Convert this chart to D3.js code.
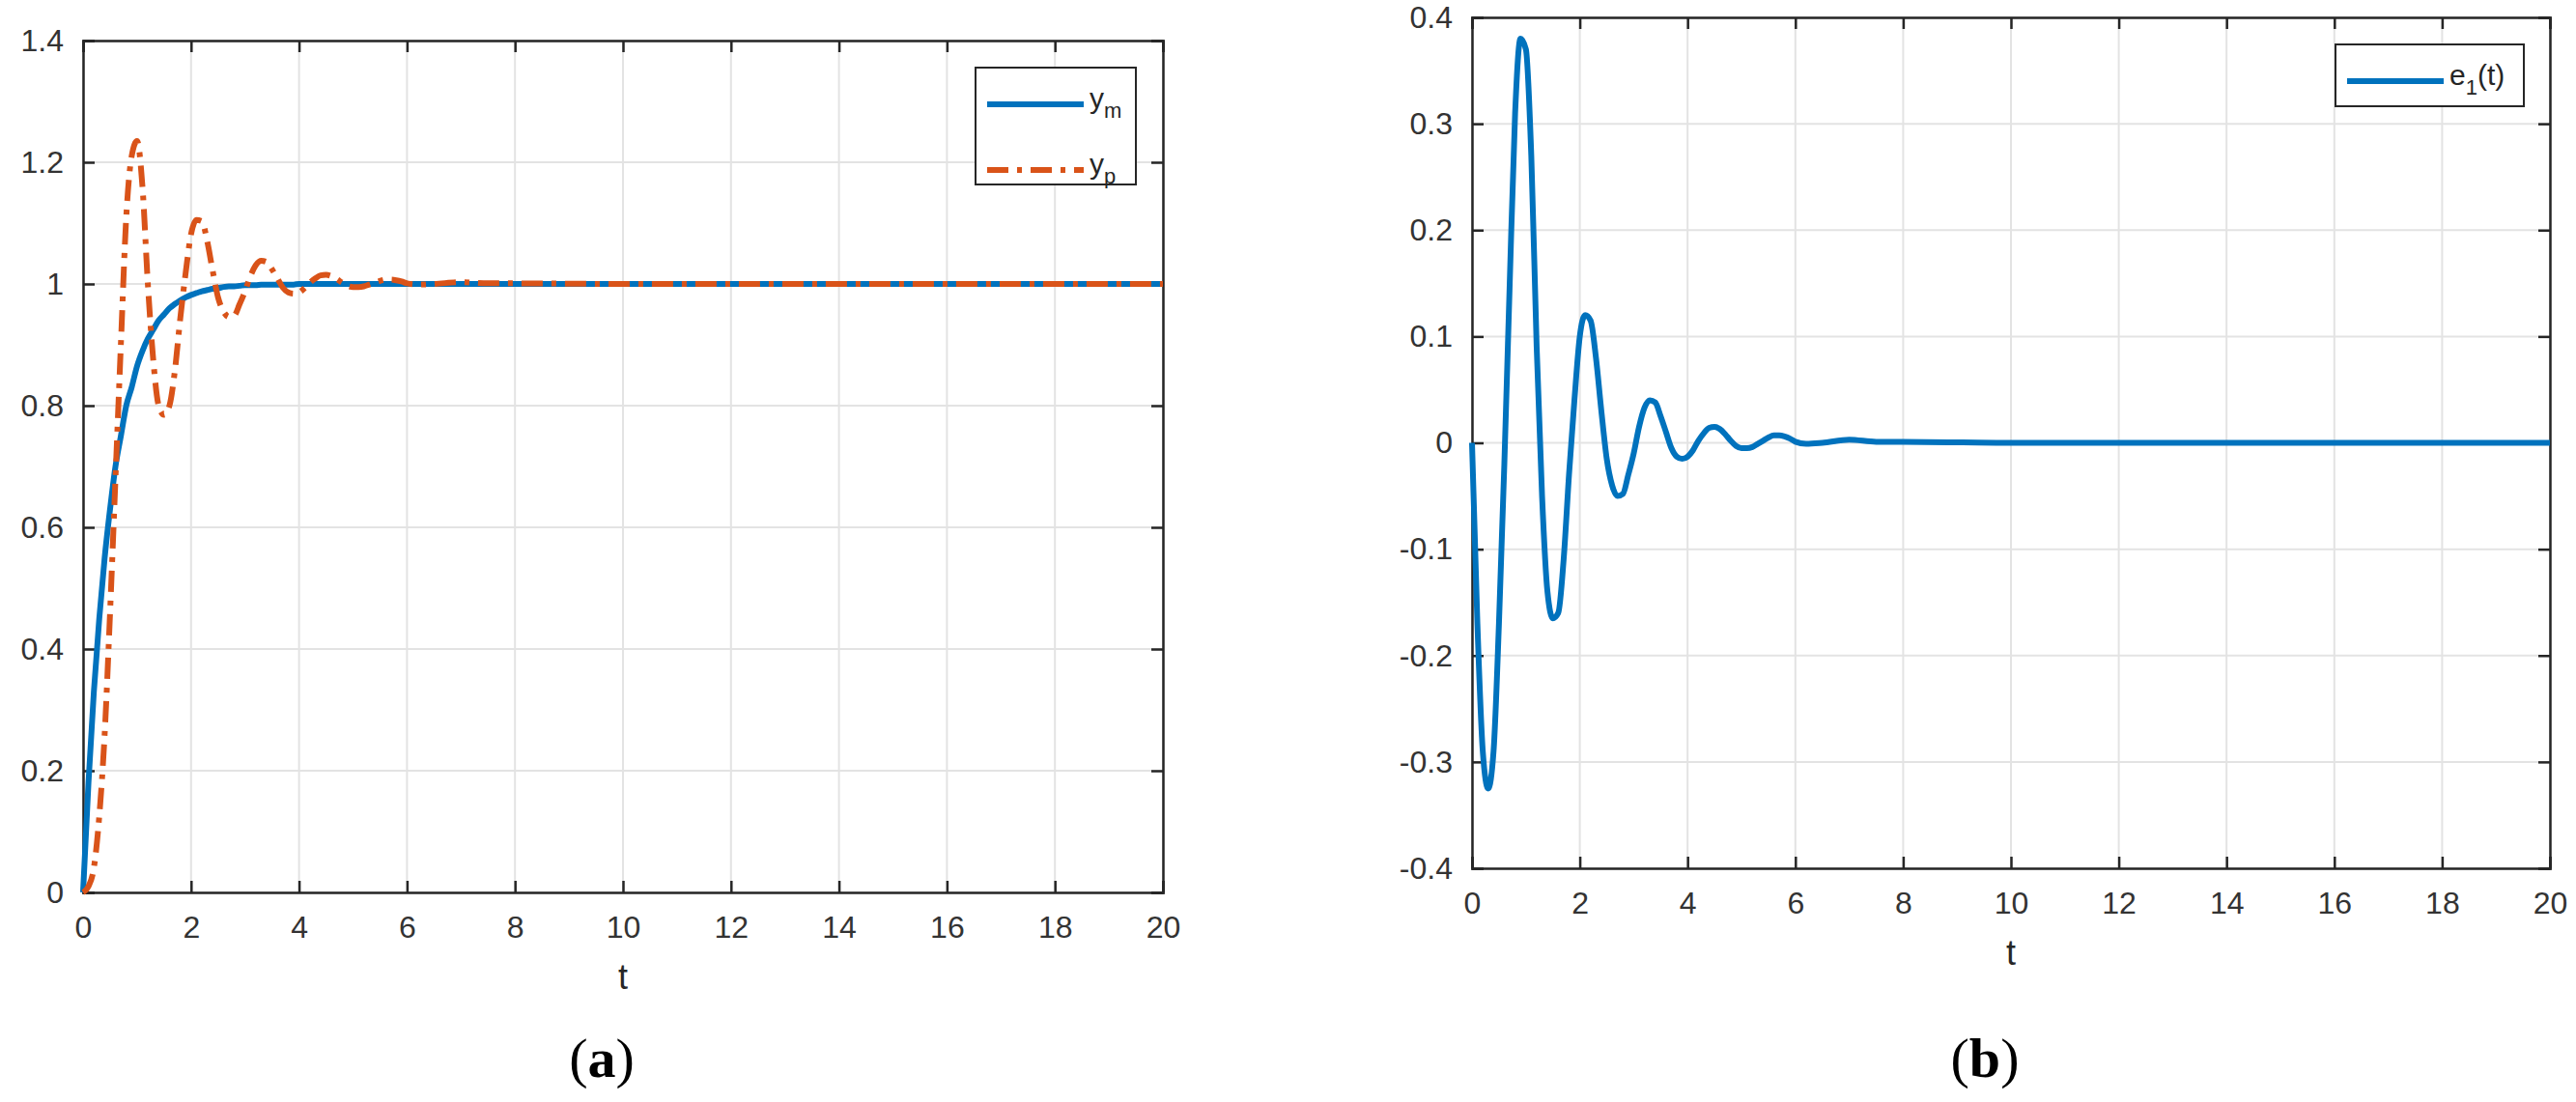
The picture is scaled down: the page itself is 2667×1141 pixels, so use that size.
<!DOCTYPE html>
<html><head><meta charset="utf-8">
<script src="https://cdn.jsdelivr.net/npm/d3@7"></script>
<style>
body{margin:0;background:#fff;}
text{font-family:"Liberation Sans",Arial,sans-serif;fill:#262626;}
</style></head>
<body>
<svg id="chart" width="2667" height="1141"></svg>
<script>
// time samples
var tVals = [0,0.1,0.2,0.3,0.4,0.5,0.6,0.7,0.8,0.9,1.0,1.1,1.2,1.3,1.4,1.5,1.6,1.7,1.8,1.9,
  2.0,2.1,2.2,2.3,2.4,2.5,2.6,2.7,2.8,2.9,3.0,3.1,3.2,3.3,3.4,3.5,3.6,3.7,3.8,3.9,
  4.0,4.1,4.2,4.3,4.4,4.5,4.6,4.7,4.8,4.9,5.0,5.1,5.2,5.3,5.4,5.5,5.6,5.7,5.8,5.9,
  6.0,6.2,6.5,7.0,7.5,8,10,12,14,16,18,20];
var ymVals = [0,0.18,0.33,0.45,0.55,0.63,0.70,0.75,0.80,0.83,0.865,0.89,0.91,0.925,0.94,0.95,0.96,0.967,0.973,0.978,
  0.982,0.985,0.988,0.99,0.992,0.993,0.995,0.996,0.996,0.997,0.998,0.998,0.998,0.999,0.999,0.999,0.999,0.999,0.999,0.999,
  1,1,1,1,1,1,1,1,1,1,1,1,1,1,1,1,1,1,1,1,
  1,1,1,1,1,1,1,1,1,1,1,1];
var ypVals = [0,0.01,0.04,0.125,0.26,0.46,0.68,0.90,1.11,1.21,1.235,1.16,1.0,0.875,0.80,0.785,0.80,0.857,0.943,1.018,
  1.082,1.105,1.103,1.07,1.022,0.978,0.955,0.946,0.948,0.967,0.988,1.013,1.031,1.038,1.036,1.024,1.009,0.994,0.986,0.984,
  0.986,0.993,1.002,1.009,1.014,1.015,1.013,1.008,1.002,0.997,0.995,0.995,0.996,0.999,1.002,1.005,1.007,1.007,1.006,1.004,
  1.001,0.999,1.0,1.003,1.001,1.001,1,1,1,1,1,1];
var e1Vals = [0,-0.17,-0.29,-0.325,-0.29,-0.17,-0.02,0.15,0.31,0.38,0.37,0.27,0.09,-0.05,-0.14,-0.165,-0.16,-0.11,-0.03,0.04,
  0.10,0.12,0.115,0.08,0.03,-0.015,-0.04,-0.05,-0.048,-0.03,-0.01,0.015,0.033,0.04,0.038,0.025,0.01,-0.005,-0.013,-0.015,
  -0.013,-0.007,0.002,0.009,0.014,0.015,0.013,0.008,0.002,-0.003,-0.005,-0.005,-0.004,-0.001,0.002,0.005,0.007,0.007,0.006,0.004,
  0.001,-0.001,0,0.003,0.001,0.001,0,0,0,0,0,0];
var xTicks = d3.range(0, 21, 2);
var yTicksA = [0,0.2,0.4,0.6,0.8,1,1.2,1.4];
var yTicksB = [-0.4,-0.3,-0.2,-0.1,0,0.1,0.2,0.3,0.4];

var BLUE = '#0072BD', ORANGE = '#D95319';
var svg = d3.select('#chart');

function panel(box, yDomain, yTicks, series, legendBox, caption, capX) {
  var x = d3.scaleLinear().domain([0, 20]).range([box.l, box.r]);
  var y = d3.scaleLinear().domain(yDomain).range([box.b, box.t]);
  var g = svg.append('g');
  var w = box.r - box.l, h = box.b - box.t;

  // grid
  g.selectAll('.vg').data(xTicks).enter().append('line')
    .attr('x1', function (d) { return x(d); }).attr('x2', function (d) { return x(d); })
    .attr('y1', box.t).attr('y2', box.b).attr('stroke', '#e3e3e3').attr('stroke-width', 2);
  g.selectAll('.hg').data(yTicks).enter().append('line')
    .attr('y1', function (d) { return y(d); }).attr('y2', function (d) { return y(d); })
    .attr('x1', box.l).attr('x2', box.r).attr('stroke', '#e3e3e3').attr('stroke-width', 2);

  // axes, ticks inward
  var fmt = function (d) { return String(d); };
  var ax = [
    [d3.axisBottom(x).tickValues(xTicks).tickSize(-12).tickPadding(24).tickFormat(fmt), 'translate(0,' + box.b + ')', true],
    [d3.axisTop(x).tickValues(xTicks).tickSize(-12).tickFormat(''), 'translate(0,' + box.t + ')', false],
    [d3.axisLeft(y).tickValues(yTicks).tickSize(-12).tickPadding(20).tickFormat(fmt), 'translate(' + box.l + ',0)', true],
    [d3.axisRight(y).tickValues(yTicks).tickSize(-12).tickFormat(''), 'translate(' + box.r + ',0)', false]
  ];
  ax.forEach(function (a) {
    var s = g.append('g').attr('transform', a[1]).call(a[0]);
    s.select('.domain').attr('stroke', '#262626').attr('stroke-width', 2.5);
    s.selectAll('.tick line').attr('stroke', '#262626').attr('stroke-width', 2.5);
    s.selectAll('text').attr('font-size', 32).style('fill', '#333');
  });

  // lines
  series.forEach(function (s) {
    var line = d3.line()
      .x(function (d, i) { return x(tVals[i]); })
      .y(function (d) { return y(d); })
      .curve(d3.curveMonotoneX);
    g.append('path').datum(s.values).attr('d', line)
      .attr('fill', 'none').attr('stroke', s.color).attr('stroke-width', 6)
      .attr('stroke-dasharray', s.dash || null);
  });

  // x label
  g.append('text').attr('x', (box.l + box.r) / 2).attr('y', box.b + 100)
    .attr('text-anchor', 'middle').attr('font-size', 36).text('t');

  // legend
  g.append('rect').attr('x', legendBox.x).attr('y', legendBox.y)
    .attr('width', legendBox.w).attr('height', legendBox.h)
    .attr('fill', '#fff').attr('stroke', '#262626').attr('stroke-width', 2);
  series.forEach(function (s, i) {
    var ly = legendBox.y + 38 + i * 68;
    g.append('line').attr('x1', legendBox.x + 12).attr('x2', legendBox.x + 112)
      .attr('y1', ly).attr('y2', ly).attr('stroke', s.color).attr('stroke-width', 6)
      .attr('stroke-dasharray', s.dash || null);
    var t = g.append('text').attr('x', legendBox.x + 118).attr('y', ly + 4).attr('font-size', 30);
    t.append('tspan').text(s.name);
    t.append('tspan').attr('dy', 10).attr('font-size', 22).text(s.sub);
    if (s.tail) t.append('tspan').attr('dy', -10).text(s.tail);
  });

  // caption
  var c = svg.append('text').attr('x', capX).attr('y', 1115).attr('text-anchor', 'middle')
    .attr('font-size', 58).style('font-family', '"Liberation Serif",serif').style('fill', '#000');
  c.append('tspan').text('(');
  c.append('tspan').attr('font-weight', 'bold').text(caption);
  c.append('tspan').text(')');
}

panel({l: 86, r: 1204, t: 42, b: 924}, [0, 1.4], yTicksA,
  [{values: ymVals, color: BLUE, name: 'y', sub: 'm'},
   {values: ypVals, color: ORANGE, dash: '22,9,5,9', name: 'y', sub: 'p'}],
  {x: 1010, y: 70, w: 166, h: 121}, 'a', 623);

panel({l: 1524, r: 2640, t: 18, b: 899}, [-0.4, 0.4], yTicksB,
  [{values: e1Vals, color: BLUE, name: 'e', sub: '1', tail: '(t)'}],
  {x: 2418, y: 46, w: 195, h: 64}, 'b', 2055);
</script>
</body></html>
